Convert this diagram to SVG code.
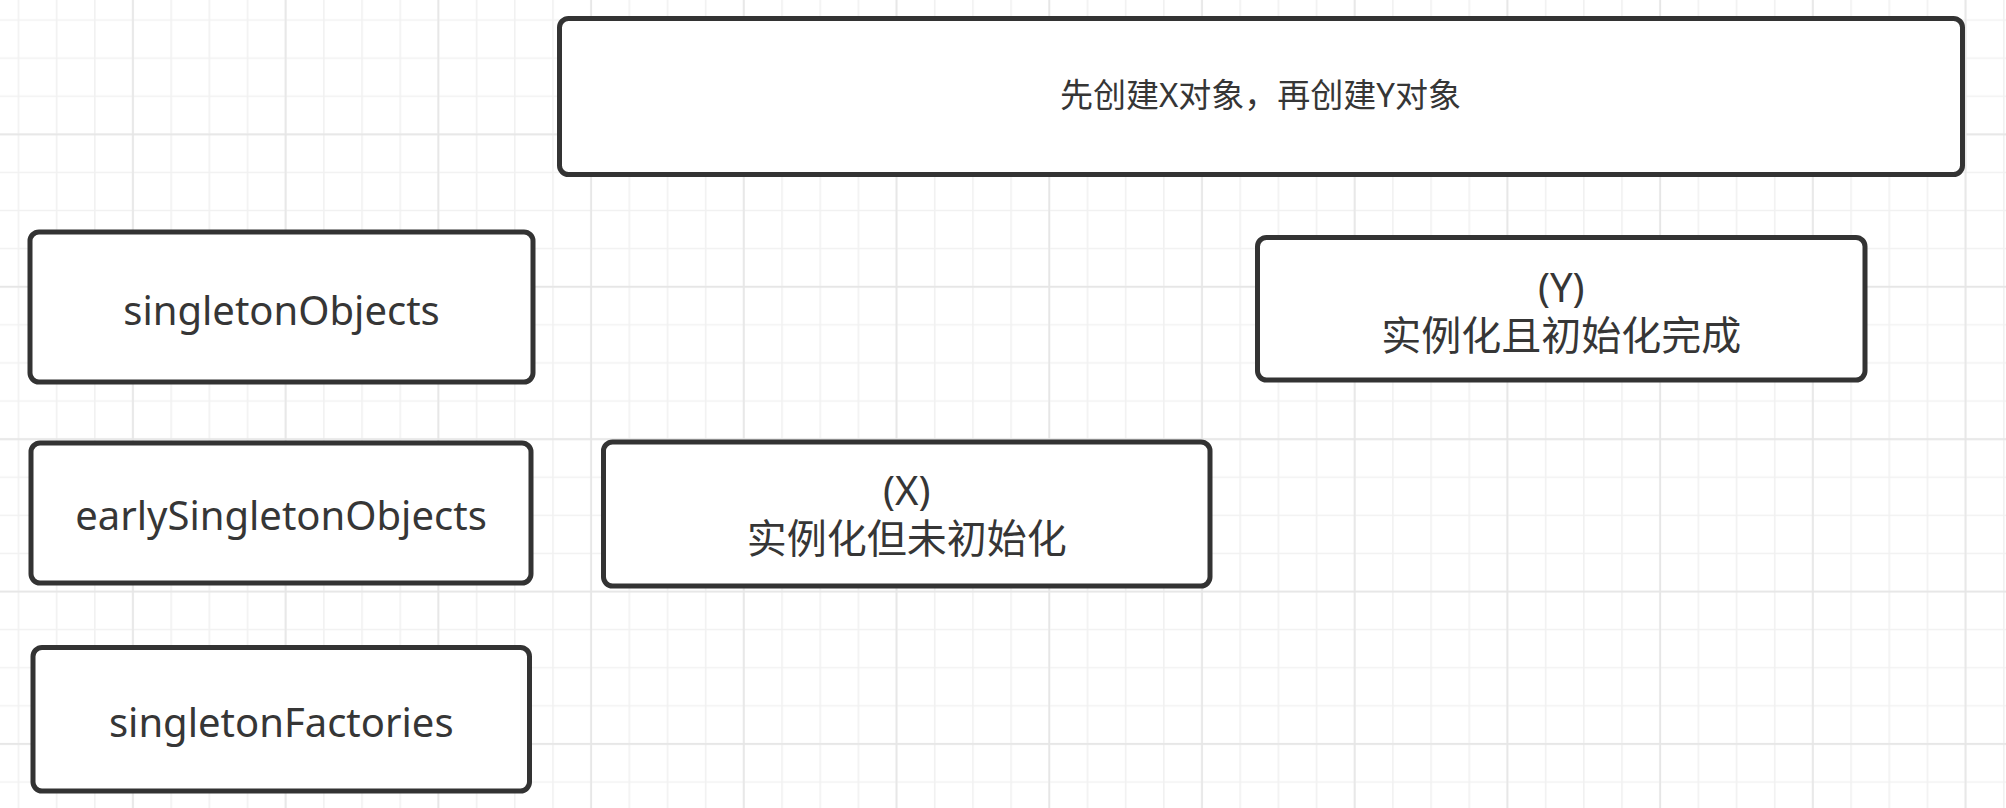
<svg xmlns="http://www.w3.org/2000/svg" width="2006" height="808" viewBox="0 0 2006 808">
  <defs>
    <pattern id="gridMinor" patternUnits="userSpaceOnUse" width="38.18" height="38.1">
      <path d="M18.4 0V38.1M0 20H38.18" stroke="#f1f1f1" stroke-width="1.6" fill="none"/>
    </pattern>
    <pattern id="gridMajor" patternUnits="userSpaceOnUse" width="152.72" height="152.4">
      <path d="M132.94 0V152.4M0 134.3H152.72" stroke="#e6e6e6" stroke-width="1.6" fill="none"/>
    </pattern>
  </defs>
  <style>
    .box { fill: #ffffff; stroke: #333333; stroke-width: 5; }
    .lbl { font-family: "Noto Sans", "Noto Sans CJK SC", sans-serif; fill: #363636; text-anchor: middle; font-size: 40px; }
    .small { font-size: 33px; }
  </style>
  <rect width="2006" height="808" fill="#ffffff"/>
  <rect width="2006" height="808" fill="url(#gridMinor)"/>
  <rect width="2006" height="808" fill="url(#gridMajor)"/>
  <g id="connectors"></g>
  <g id="node-title">
    <rect class="box" x="559.5" y="18.5" width="1403" height="156" rx="9"/>
    <text class="lbl small" x="1260.5" y="107">先创建X对象，再创建Y对象</text>
  </g>
  <g id="node-singletonObjects">
    <rect class="box" x="30" y="232" width="503" height="150" rx="9"/>
    <text class="lbl" x="281.5" y="325">singletonObjects</text>
  </g>
  <g id="node-earlySingletonObjects">
    <rect class="box" x="31" y="443" width="500" height="140" rx="9"/>
    <text class="lbl" x="281" y="530">earlySingletonObjects</text>
  </g>
  <g id="node-singletonFactories">
    <rect class="box" x="33" y="647.5" width="496.5" height="143.5" rx="9"/>
    <text class="lbl" x="281.25" y="737">singletonFactories</text>
  </g>
  <g id="node-X">
    <rect class="box" x="603.5" y="442" width="606.5" height="144" rx="9"/>
    <text class="lbl"><tspan x="906.75" y="505">(X)</tspan><tspan x="906.75" y="553">实例化但未初始化</tspan></text>
  </g>
  <g id="node-Y">
    <rect class="box" x="1257.5" y="237.5" width="607.5" height="142.5" rx="9"/>
    <text class="lbl"><tspan x="1561.25" y="302">(Y)</tspan><tspan x="1561.25" y="350">实例化且初始化完成</tspan></text>
  </g>
</svg>
